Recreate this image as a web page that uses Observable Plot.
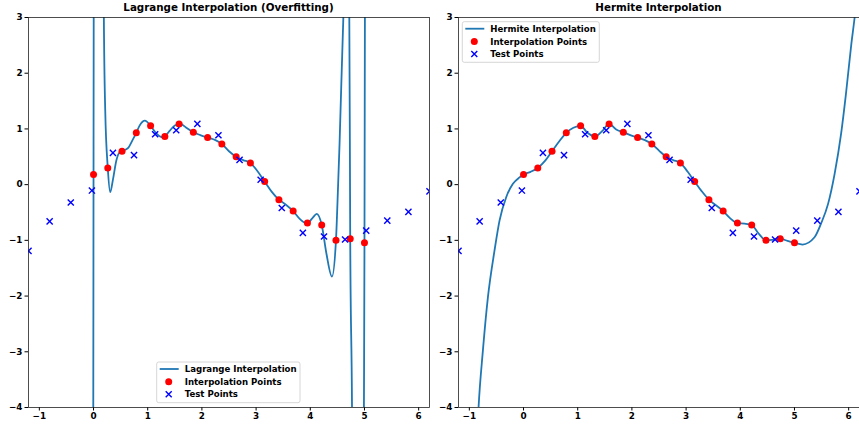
<!DOCTYPE html>
<html><head><meta charset="utf-8">
<script src="https://cdn.jsdelivr.net/npm/d3@7"></script>
<script src="https://cdn.jsdelivr.net/npm/@observablehq/plot@0.6"></script>
<style>
body{margin:0;background:#fff;}
#wrap{display:flex;width:859px;height:425px;overflow:hidden;}
svg{font-family:"DejaVu Sans",sans-serif;}
</style></head><body><div id="wrap"></div>
<script>
// Interpolation points (red dots)
const interpX = [0, 0.263, 0.526, 0.789, 1.053, 1.316, 1.579, 1.842, 2.105, 2.368, 2.632, 2.895, 3.158, 3.421, 3.684, 3.947, 4.211, 4.474, 4.737, 5.0];
const interpY = [0.18, 0.30, 0.60, 0.93, 1.055, 0.865, 1.09, 0.94, 0.845, 0.73, 0.50, 0.39, 0.055, -0.27, -0.475, -0.69, -0.725, -1.0, -0.97, -1.045];
// Test points (blue crosses)
const testX = [-1.2, -0.81, -0.42, -0.03, 0.358, 0.747, 1.137, 1.526, 1.916, 2.305, 2.695, 3.084, 3.474, 3.863, 4.253, 4.642, 5.032, 5.421, 5.811, 6.2];
const testY = [-1.19, -0.66, -0.32, -0.106, 0.57, 0.53, 0.905, 0.977, 1.09, 0.887, 0.445, 0.088, -0.42, -0.865, -0.93, -0.985, -0.825, -0.645, -0.49, -0.12];
// Lagrange interpolation curve
const lagrangeX = [-1.2, -0.1, -0.02, -0.005, 0, 0.005, 0.02, 0.1, 0.17, 0.19, 0.216, 0.263, 0.308, 0.36, 0.42, 0.48, 0.526, 0.64, 0.72, 0.789, 0.85, 0.948, 1.053, 1.15, 1.22, 1.29, 1.316, 1.4, 1.5, 1.605, 1.7, 1.842, 1.97, 2.105, 2.25, 2.368, 2.5, 2.632, 2.76, 2.895, 3.02, 3.158, 3.29, 3.421, 3.55, 3.684, 3.81, 3.92, 3.947, 4.04, 4.12, 4.211, 4.3, 4.40, 4.474, 4.51, 4.54, 4.61, 4.665, 4.72, 4.737, 4.77, 4.8, 4.88, 4.97, 4.99, 5.0, 5.01, 5.1, 6.2];
const lagrangeY = [-60, -40, -12, -4.5, 0.18, 4.5, 12, 30, 12, 3.1, 1.33, 0.30, -0.136, 0.1, 0.43, 0.58, 0.60, 0.66, 0.80, 0.93, 1.06, 1.15, 1.055, 0.93, 0.87, 0.85, 0.864, 0.96, 1.06, 1.09, 1.03, 0.94, 0.89, 0.845, 0.80, 0.73, 0.60, 0.50, 0.44, 0.39, 0.25, 0.055, -0.13, -0.27, -0.36, -0.475, -0.62, -0.69, -0.69, -0.6, -0.525, -0.725, -1.25, -1.65, -1.0, -0.1, 0.73, 3.0, 4.2, 3.0, -0.97, -4.0, -10, -20, -8, -4, -1.045, 4, 20, 100];
// Hermite interpolation curve
const hermiteX = [-0.86, -0.83, -0.75, -0.657, -0.535, -0.443, -0.32, -0.196, -0.074, 0, 0.13, 0.263, 0.4, 0.526, 0.66, 0.789, 0.92, 1.053, 1.18, 1.316, 1.45, 1.579, 1.71, 1.842, 1.97, 2.105, 2.24, 2.368, 2.5, 2.632, 2.76, 2.895, 3.03, 3.158, 3.29, 3.421, 3.55, 3.684, 3.81, 3.947, 4.08, 4.211, 4.34, 4.474, 4.6, 4.737, 4.87, 5.0, 5.15, 5.37, 5.49, 5.62, 5.74, 5.86, 5.95, 6.05, 6.11, 6.2];
const hermiteY = [-4.6, -4.0, -2.98, -2.02, -1.18, -0.645, -0.226, 0.014, 0.13, 0.18, 0.23, 0.30, 0.43, 0.60, 0.78, 0.93, 1.02, 1.055, 0.93, 0.864, 0.96, 1.09, 0.99, 0.94, 0.89, 0.845, 0.80, 0.73, 0.61, 0.50, 0.44, 0.39, 0.23, 0.055, -0.12, -0.27, -0.37, -0.475, -0.6, -0.69, -0.70, -0.725, -0.88, -1.0, -0.99, -0.97, -1.01, -1.045, -1.075, -0.945, -0.70, -0.345, 0.19, 0.91, 1.63, 2.53, 3.0, 3.9];
const xTicks = [-1, 0, 1, 2, 3, 4, 5, 6];
const yTicks = [-4, -3, -2, -1, 0, 1, 2, 3];
const titles = ["Lagrange Interpolation (Overfitting)", "Hermite Interpolation"];
const lineLabels = ["Lagrange Interpolation", "Hermite Interpolation"];
const pointLabels = ["Interpolation Points", "Test Points"];

const interp = interpX.map((x, i) => ({x, y: interpY[i]}));
const test = testX.map((x, i) => ({x, y: testY[i]}));
const lagrange = lagrangeX.map((x, i) => ({x, y: lagrangeY[i]}));
const hermite = hermiteX.map((x, i) => ({x, y: hermiteY[i]}));

const BLUE_LINE = "#1f77b4";
const FONT = "'DejaVu Sans', sans-serif";
const fmt = d => (d < 0 ? "\u2212" : "") + Math.abs(d);

function panel(width, marginRight, curveData, title, lineLabel, legendPos) {
  const chart = Plot.plot({
    width, height: 425,
    marginLeft: 28, marginRight, marginTop: 17, marginBottom: 18,
    style: {fontFamily: FONT, fontSize: "8.8px", fontWeight: "bold", background: "white", color: "#000"},
    x: {domain: [-1.2, 6.2], ticks: xTicks, tickSize: 3.5, tickPadding: 2, tickFormat: fmt, label: null},
    y: {domain: [-4, 3], ticks: yTicks, tickSize: 3.5, tickPadding: 2.5, tickFormat: fmt, label: null},
    marks: [
      Plot.line(curveData, {x: "x", y: "y", stroke: BLUE_LINE, strokeWidth: 1.8, curve: "monotone-x", clip: true}),
      Plot.dot(interp, {x: "x", y: "y", r: 3.5, fill: "red", clip: true}),
      Plot.dot(test, {x: "x", y: "y", symbol: "times", r: 2.9, stroke: "blue", strokeWidth: 1.4, clip: true}),
      Plot.frame({stroke: "#222", strokeWidth: 0.8})
    ]
  });
  const xr = chart.scale("x").range;
  const svg = d3.select(chart);
  svg.append("text")
    .attr("x", (xr[0] + xr[1]) / 2).attr("y", 11)
    .attr("text-anchor", "middle")
    .style("font-family", FONT).style("font-weight", "bold").style("font-size", "10.3px")
    .text(title);
  // legend
  const [lx, ly, lw, lh] = legendPos;
  const g = svg.append("g").attr("transform", `translate(${lx},${ly})`)
    .attr("text-anchor", "start")
    .style("font-family", FONT).style("font-weight", "bold").style("font-size", "8.6px");
  g.append("rect").attr("width", lw).attr("height", lh).attr("rx", 2)
    .attr("fill", "white").attr("fill-opacity", 0.8).attr("stroke", "#cccccc").attr("stroke-width", 0.8);
  const rows = [7, 19.8, 32.3];
  g.append("line").attr("x1", 3).attr("x2", 22).attr("y1", rows[0]).attr("y2", rows[0])
    .attr("stroke", BLUE_LINE).attr("stroke-width", 1.8);
  g.append("circle").attr("cx", 12).attr("cy", rows[1]).attr("r", 3.5).attr("fill", "red");
  const s = 3;
  g.append("path").attr("d", `M${12 - s},${rows[2] - s}L${12 + s},${rows[2] + s}M${12 - s},${rows[2] + s}L${12 + s},${rows[2] - s}`)
    .attr("stroke", "blue").attr("stroke-width", 1.4);
  const labels = [lineLabel, pointLabels[0], pointLabels[1]];
  labels.forEach((t, i) => {
    g.append("text").attr("x", 28).attr("y", rows[i]).attr("dy", "0.36em")
      .attr("text-anchor", "start").text(t);
  });
  return chart;
}

const wrap = document.getElementById("wrap");
wrap.appendChild(panel(430, 1, lagrange, titles[0], lineLabels[0], [156.7, 362, 143.3, 40.7]));
wrap.appendChild(panel(429, 0, hermite, titles[1], lineLabels[1], [32.3, 21.7, 137, 40.6]));
</script></body></html>
